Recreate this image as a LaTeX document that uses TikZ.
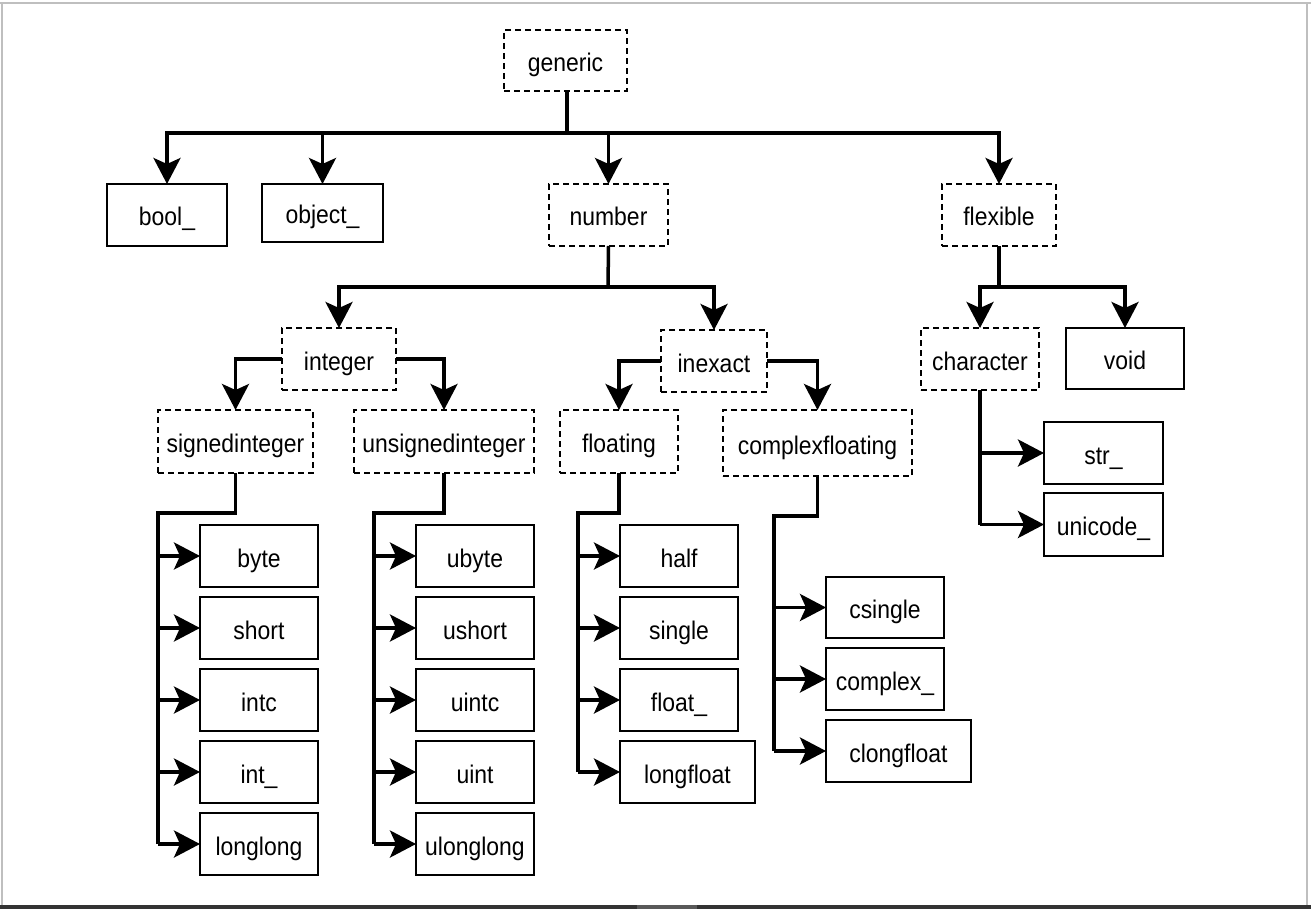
\documentclass[tikz,border=0pt]{standalone}
\usepackage{fontspec}
\setmainfont{Liberation Sans}[FakeStretch=0.9]
\usetikzlibrary{arrows.meta}

% box given by its corners (pixel-style coordinates, y downwards)
\newcommand\mkbox[7]{%
  \node[#1, minimum width={#5pt-#3pt}, minimum height={#6pt-#4pt}]
    (#2) at ({(#3+#5)/2},{(#4+#6)/2}) {#7};}

\begin{document}
\begin{tikzpicture}[x=1pt, y=-1pt,
  base/.style={inner sep=0pt, outer sep=0pt, line width=1.8pt,
    text height=22pt, text depth=0pt,
    font=\fontsize{25.5}{28}\selectfont},
  solidbox/.style={base, draw=black},
  dashbox/.style={base, draw=black, dash pattern=on 6pt off 4pt},
  wire/.style={line width=3.5pt},
  arr/.style={wire, -{Stealth[length=26pt, width=27pt, inset=6pt]}},
  frameline/.style={draw=black!25, line width=2pt}]

\useasboundingbox (0,0) rectangle (1311,909);
\fill[white] (0,0) rectangle (1311,909);

% window frame
\draw[frameline] (0,3) -- (1311,3);
\draw[frameline] (2,3) -- (2,905);
\draw[frameline] (1307,3) -- (1307,905);
\fill[black!80] (0,905) rectangle (1311,909);
\fill[black!65] (637,905) rectangle (697,909);

% abstract types (dashed) and concrete types (solid)
\mkbox{dashbox}{generic}{504}{30}{627}{91}{generic}
\mkbox{solidbox}{bool}{107}{184}{227}{246}{bool\_}
\mkbox{solidbox}{object}{262}{184}{383}{242}{object\_}
\mkbox{dashbox}{number}{549}{184}{668}{246}{number}
\mkbox{dashbox}{flexible}{942}{184}{1056}{246}{flexible}

\mkbox{dashbox}{integer}{282}{328}{396}{390}{integer}
\mkbox{dashbox}{inexact}{661}{330}{767}{392}{inexact}
\mkbox{dashbox}{character}{921}{328}{1039}{390}{character}
\mkbox{solidbox}{void}{1066}{328}{1184}{389}{void}

\mkbox{dashbox}{signed}{158}{410}{313}{473}{signedinteger}
\mkbox{dashbox}{unsigned}{354}{410}{534}{473}{unsignedinteger}
\mkbox{dashbox}{floating}{560}{410}{678}{473}{floating}
\mkbox{dashbox}{cfloating}{723}{410}{912}{476}{complexfloating}

\mkbox{solidbox}{byte}{200}{525}{318}{587}{byte}
\mkbox{solidbox}{short}{200}{597}{318}{659}{short}
\mkbox{solidbox}{intc}{200}{669}{318}{731}{intc}
\mkbox{solidbox}{int}{200}{741}{318}{803}{int\_}
\mkbox{solidbox}{longlong}{200}{813}{318}{875}{longlong}

\mkbox{solidbox}{ubyte}{416}{525}{534}{587}{ubyte}
\mkbox{solidbox}{ushort}{416}{597}{534}{659}{ushort}
\mkbox{solidbox}{uintc}{416}{669}{534}{731}{uintc}
\mkbox{solidbox}{uint}{416}{741}{534}{803}{uint}
\mkbox{solidbox}{ulonglong}{416}{813}{534}{875}{ulonglong}

\mkbox{solidbox}{half}{620}{525}{738}{587}{half}
\mkbox{solidbox}{single}{620}{597}{738}{659}{single}
\mkbox{solidbox}{float}{620}{669}{738}{731}{float\_}
\mkbox{solidbox}{longfloat}{620}{741}{755}{803}{longfloat}

\mkbox{solidbox}{csingle}{826}{577}{944}{638}{csingle}
\mkbox{solidbox}{complex}{826}{648}{944}{710}{complex\_}
\mkbox{solidbox}{clongfloat}{826}{720}{971}{782}{clongfloat}

\mkbox{solidbox}{str}{1044}{422}{1163}{484}{str\_}
\mkbox{solidbox}{unicode}{1044}{493}{1163}{556}{unicode\_}

% bus levels
\coordinate (busTop) at (567,133);
\coordinate (busNum) at (608,287);
\coordinate (busFlex) at (999,287);
\coordinate (busS) at (158,513);
\coordinate (busU) at (374,513);
\coordinate (busF) at (578,513);
\coordinate (busC) at (774,516);

% generic
\draw[wire] (generic.south -| busTop) -- (busTop);
\draw[arr] (busTop) -| (bool.north);
\draw[arr] (busTop) -| (object.north);
\draw[arr] (busTop) -| (number.north);
\draw[arr] (busTop) -| (flexible.north);

% number
\draw[wire] (number.south) -- (busNum);
\draw[arr] (busNum) -| (integer.north);
\draw[arr] (busNum) -| (inexact.north);

% flexible
\draw[wire] (flexible.south) -- (busFlex);
\draw[arr] (busFlex) -| (character.north);
\draw[arr] (busFlex) -| (void.north);

% integer / inexact
\draw[arr] (integer.west) -| (signed.north);
\draw[arr] (integer.east) -| (unsigned.north);
\draw[arr] (inexact.west) -| (floating.north);
\draw[arr] (inexact.east) -| (cfloating.north);

% signedinteger
\draw[wire] (signed.south) |- (busS) -- (busS |- longlong.west);
\foreach \c in {byte,short,intc,int,longlong}
  \draw[arr] (busS |- \c.west) -- (\c.west);

% unsignedinteger
\draw[wire] (unsigned.south) |- (busU) -- (busU |- ulonglong.west);
\foreach \c in {ubyte,ushort,uintc,uint,ulonglong}
  \draw[arr] (busU |- \c.west) -- (\c.west);

% floating
\draw[wire] (floating.south) |- (busF) -- (busF |- longfloat.west);
\foreach \c in {half,single,float,longfloat}
  \draw[arr] (busF |- \c.west) -- (\c.west);

% complexfloating
\draw[wire] (cfloating.south) |- (busC) -- (busC |- clongfloat.west);
\foreach \c in {csingle,complex,clongfloat}
  \draw[arr] (busC |- \c.west) -- (\c.west);

% character
\draw[wire] (character.south) -- (character.south |- unicode.west);
\foreach \c in {str,unicode}
  \draw[arr] (character.south |- \c.west) -- (\c.west);

\end{tikzpicture}
\end{document}
